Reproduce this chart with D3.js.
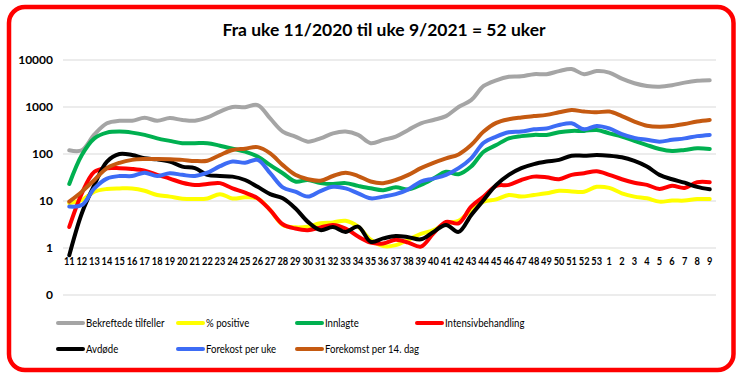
<!DOCTYPE html>
<html><head><meta charset="utf-8">
<script src="https://cdn.jsdelivr.net/npm/d3@7"></script>
<style>
html,body{margin:0;padding:0;background:#fff;}
svg{display:block;}
</style></head>
<body><svg id="c" width="742" height="380"></svg>
<script>
const weeks = ["11","12","13","14","15","16","17","18","19","20","21","22","23","24","25","26","27","28","29","30","31","32","33","34","35","36","37","38","39","40","41","42","43","44","45","46","47","48","49","50","51","52","53","1","2","3","4","5","6","7","8","9"];
const bekreftede = [120,120,260,450,510,510,590,510,580,530,510,600,800,1000,990,1100,570,300,235,183,215,275,300,255,170,200,235,325,450,530,640,1000,1400,2800,3700,4400,4500,5000,5000,5800,6400,5000,5800,5400,4000,3200,2800,2700,2900,3300,3600,3700];
const positive = [9,10.5,15.8,18,18.5,18.5,16.5,13.4,12.4,11.2,11,11.3,14,11.3,12,11.3,6.4,3.1,2.75,2.85,3.35,3.5,3.8,2.85,1.5,1.1,1.15,1.5,2,2.4,3.35,3.8,6.4,9.7,10.8,13.4,12.4,13.4,14.6,16.5,16,15.8,20,19,14.6,12.4,11.4,9.7,10.2,10.2,11,11];
const innlagte = [23,95,215,285,300,285,255,215,190,170,170,170,150,130,112,88,58,39,26,28,24,23,24,21,18.6,17,19.5,17.7,22,30,42,37,54,112,155,215,240,255,255,290,310,310,325,275,235,190,155,128,116,122,132,128];
const intensiv = [2.8,14.6,42,50,50,48,44,36,30,24.5,22,23,24,18.6,15,11.4,6.4,3.2,2.6,2.4,2.75,3.1,2.6,1.75,1.3,1.25,1.5,1.3,1.07,2.05,3.6,3.35,7.6,12.4,21,22,28,33,32,29,36,39,43,36,29,24.5,22,18,21,19,25,25];
const avdode = [0.7,5.5,22,69,100,95,81,77,69,54,50,36,34,33,28,20,14,11.4,7,3.6,2.4,2.8,2.2,2.85,1.36,1.6,1.8,1.7,1.53,2.2,3.1,2.2,5,10.5,22,36,50,61,69,75,92,92,95,92,85,71,54,36,29,24.5,20,17.7];
const perUke = [7.6,8.2,18.6,30,34,34,40,34,39,36,34,40,55,69,65,75,39,19.5,15.8,12.4,16.3,20,18.6,14.6,11.4,12.4,14,17.7,26,30,36,50,81,173,235,290,300,335,350,415,450,335,395,350,265,220,200,183,200,215,240,255];
const per14 = [9.7,15.8,28,50,65,75,78,78,77,75,71,72,95,122,130,140,103,58,36,29,27,34,40,34,26,24,28,36,50,65,81,98,155,300,460,550,600,640,680,770,860,800,770,800,640,490,400,380,395,435,490,530];
const yTicks = [0.1,1,10,100,1000,10000];
const yTickLabels = ["0","1","10","100","1000","10000"];
const seriesNames = ["Bekreftede tilfeller","% positive","Innlagte","Intensivbehandling","Avdøde","Forekost per uke","Forekomst per 14. dag"];
const seriesColors = ["#A5A5A5","#FFFF00","#00B050","#FF0000","#000000","#3D6CF5","#C55A11"];
const seriesData = [bekreftede,positive,innlagte,intensiv,avdode,perUke,per14];

const svg = d3.select("#c");
const font = "Lato, 'Liberation Sans', sans-serif";

svg.append("rect").attr("x",9).attr("y",7).attr("width",724.5).attr("height",363)
  .attr("rx",16).attr("fill","#fff").attr("stroke","#FF0000").attr("stroke-width",4.5);

const title = svg.append("text").attr("x",384).attr("y",36).attr("text-anchor","middle")
  .attr("font-family",font).attr("font-weight","bold").attr("font-size",17).attr("fill","#000")
  .text("Fra uke 11/2020 til uke 9/2021 = 52 uker");
title.attr("textLength",323).attr("lengthAdjust","spacingAndGlyphs");

const x = d3.scaleBand().domain(weeks).range([63,716]);
const y = d3.scaleLog().domain([0.1,10000]).range([295,60]);

// gridlines
svg.append("g").selectAll("line").data(yTicks).join("line")
  .attr("x1",63).attr("x2",716).attr("y1",d=>y(d)).attr("y2",d=>y(d))
  .attr("stroke","#D9D9D9").attr("stroke-width",1);

const yAxis = d3.axisLeft(y).tickValues(yTicks).tickFormat((d,i)=>yTickLabels[i]).tickSize(0).tickPadding(10);
const gy = svg.append("g").attr("transform","translate(63,0)").call(yAxis);
gy.select(".domain").remove();
gy.selectAll("text").attr("font-family",font).attr("font-weight","bold").attr("font-size",12).attr("fill","#000");

const xAxis = d3.axisBottom(x).tickSize(0).tickPadding(0);
const gx = svg.append("g").attr("transform","translate(0,257)").call(xAxis);
gx.select(".domain").remove();
gx.selectAll("text").attr("font-family",font).attr("font-weight","bold").attr("font-size",11).attr("fill","#000")
  .each(function(d){ const w=this.getComputedTextLength(); d3.select(this).attr("textLength",w*0.84).attr("lengthAdjust","spacingAndGlyphs"); });

const line = d3.line().x((d,i)=>x(weeks[i])+x.bandwidth()/2).y(d=>y(d)).curve(d3.curveCatmullRom.alpha(0.5));
seriesData.forEach((s,k)=>{
  svg.append("path").attr("d",line(s)).attr("fill","none").attr("stroke",seriesColors[k])
    .attr("stroke-width",4).attr("stroke-linejoin","round").attr("stroke-linecap","round");
});

// legend
const legPos = [[58,323],[178,323],[297,323],[417,323],[58,349],[178,349],[297,349]];
seriesNames.forEach((n,k)=>{
  const [lx,ly] = legPos[k];
  svg.append("line").attr("x1",lx).attr("x2",lx+25).attr("y1",ly).attr("y2",ly)
    .attr("stroke",seriesColors[k]).attr("stroke-width",4).attr("stroke-linecap","round");
  const t = svg.append("text").attr("x",lx+28).attr("y",ly+4).attr("font-family",font).attr("font-size",12).attr("fill","#000").text(n);
  const w = t.node().getComputedTextLength();
  t.attr("textLength",w*0.8).attr("lengthAdjust","spacingAndGlyphs");
});
</script></body></html>
